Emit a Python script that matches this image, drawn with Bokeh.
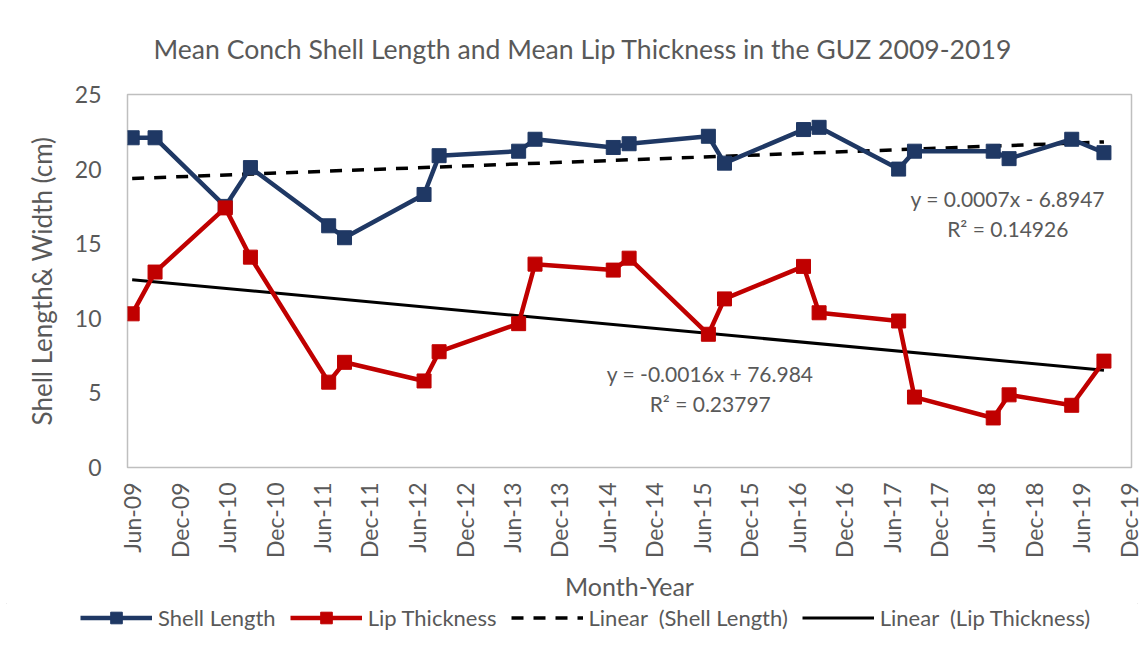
import numpy as np
import pandas as pd
from bokeh.plotting import figure
from bokeh.layouts import column
from bokeh.models import (Range1d, FixedTicker, DatetimeTickFormatter, Legend,
                          LegendItem, Label, ColumnDataSource)
from bokeh.embed import file_html
from bokeh.resources import INLINE

# ---- data ----
dates = ["2009-06-01", "2009-08-28", "2010-05-25", "2010-08-30", "2011-06-27",
         "2011-08-27", "2012-06-28", "2012-08-25", "2013-06-27", "2013-08-29",
         "2014-06-26", "2014-08-26", "2015-06-27", "2015-08-28", "2016-06-27",
         "2016-08-26", "2017-06-28", "2017-08-28", "2018-06-27", "2018-08-27",
         "2019-04-25", "2019-08-27"]
shell_length = [22.1, 22.1, 17.5, 20.1, 16.2, 15.4, 18.3, 20.9, 21.2, 22.0,
                21.45, 21.7, 22.2, 20.4, 22.65, 22.8, 20.0, 21.2, 21.2, 20.7,
                22.0, 21.1]
lip_thickness = [10.3, 13.1, 17.4, 14.1, 5.72, 7.05, 5.8, 7.76, 9.64, 13.63,
                 13.23, 14.03, 8.93, 11.3, 13.48, 10.37, 9.82, 4.72, 3.32, 4.87,
                 4.17, 7.13]
tick_dates = ["2009-06-01", "2009-12-01", "2010-06-01", "2010-12-01", "2011-06-01",
              "2011-12-01", "2012-06-01", "2012-12-01", "2013-06-01", "2013-12-01",
              "2014-06-01", "2014-12-01", "2015-06-01", "2015-12-01", "2016-06-01",
              "2016-12-01", "2017-06-01", "2017-12-01", "2018-06-01", "2018-12-01",
              "2019-06-01", "2019-12-01"]
legend_labels = ["Shell Length", "Lip Thickness", "Linear  (Shell Length)",
                 "Linear  (Lip Thickness)"]
shell_eq = ["y = 0.0007x - 6.8947", "R² = 0.14926"]
lip_eq = ["y = -0.0016x + 76.984", "R² = 0.23797"]

FONT = "Lato"
GREY = "#595959"
NAVY = "#1F3864"
RED = "#C00000"

d = pd.to_datetime(dates)
src = ColumnDataSource(dict(x=d, shell=shell_length, lip=lip_thickness))

# linear trend lines (least squares on days)
t = np.array((d - d[0]).days, dtype=float)
ends = pd.to_datetime([d[0], d[-1]])
t_end = np.array([t[0], t[-1]])
cs = np.polyfit(t, np.array(shell_length), 1)
cl = np.polyfit(t, np.array(lip_thickness), 1)
trend = ColumnDataSource(dict(x=ends, s=np.polyval(cs, t_end), l=np.polyval(cl, t_end)))

MAIN_H = 603
p = figure(width=1144, height=MAIN_H, x_axis_type="datetime",
           output_backend="svg", toolbar_location=None,
           x_range=Range1d(pd.Timestamp("2009-05-14"), pd.Timestamp("2019-12-11")),
           y_range=Range1d(0, 25),
           min_border_left=127, min_border_right=13,
           min_border_top=94, min_border_bottom=MAIN_H - 470)

p.title.text = "Mean Conch Shell Length and Mean Lip Thickness in the GUZ 2009-2019"
p.title.align = "left"
p.title.offset = 26
p.title.text_font = FONT
p.title.text_font_size = "26.6px"
p.title.text_font_style = "normal"
p.title.text_color = GREY
p.title.standoff = 60

p.xgrid.visible = False
p.ygrid.visible = False
p.outline_line_color = "#bfbfbf"
p.outline_line_width = 1.5

# axes
p.xaxis.ticker = FixedTicker(ticks=[pd.Timestamp(s).value / 1e6 for s in tick_dates])
fmt = "%b-%y"
p.xaxis.formatter = DatetimeTickFormatter(milliseconds=fmt, seconds=fmt, minsec=fmt,
                                          minutes=fmt, hourmin=fmt, hours=fmt, days=fmt,
                                          months=fmt, years=fmt)
p.xaxis.major_label_orientation = np.pi / 2
p.yaxis.ticker = FixedTicker(ticks=[0, 5, 10, 15, 20, 25])
for ax in (p.xaxis, p.yaxis):
    ax.axis_line_color = None
    ax.major_tick_line_color = None
    ax.minor_tick_line_color = None
    ax.major_tick_out = 0
    ax.major_tick_in = 0
    ax.major_label_text_font = FONT
    ax.major_label_text_color = GREY
    ax.axis_label_text_font = FONT
    ax.axis_label_text_color = GREY
    ax.axis_label_text_font_style = "normal"
p.xaxis.major_label_text_font_size = "23px"
p.yaxis.major_label_text_font_size = "23px"
p.xaxis.major_label_standoff = 15
p.yaxis.major_label_standoff = 26
p.xaxis.axis_label = "Month-Year"
p.xaxis.axis_label_text_font_size = "25px"
p.xaxis.axis_label_standoff = 10
p.yaxis.axis_label = "Shell Length& Width (cm)"
p.yaxis.axis_label_text_font_size = "26px"
p.yaxis.axis_label_standoff = 14

# trend lines
r_ts = p.line("x", "s", source=trend, line_color="black", line_width=3.5, line_dash="12 10")
r_tl = p.line("x", "l", source=trend, line_color="black", line_width=3)

# series
r_sl = p.line("x", "shell", source=src, line_color=NAVY, line_width=4.5)
r_sm = p.scatter("x", "shell", source=src, marker="square", size=14,
                 fill_color=NAVY, line_color=NAVY)
r_ll = p.line("x", "lip", source=src, line_color=RED, line_width=4.5)
r_lm = p.scatter("x", "lip", source=src, marker="square", size=14,
                 fill_color=RED, line_color=RED)

# equations
def eq(txt, x, y):
    p.add_layout(Label(x=pd.Timestamp(x).value / 1e6, y=y, text=txt, text_align="center",
                       text_baseline="middle", text_font=FONT, text_font_size="21px",
                       text_color=GREY))

eq(shell_eq[0], "2018-08-22", 18.0)
eq(shell_eq[1], "2018-08-22", 16.0)
eq(lip_eq[0], "2015-07-04", 6.3)
eq(lip_eq[1], "2015-07-04", 4.27)

# ---- legend strip (own small figure below the chart; same sources, off-range) ----
LEG_H = 654 - MAIN_H
GH = 29
q = figure(width=1144, height=LEG_H, output_backend="svg", toolbar_location=None,
           x_range=Range1d(0, 1), y_range=Range1d(0, 1), min_border=0,
           min_border_left=0, min_border_right=0, min_border_top=0, min_border_bottom=0)
q.axis.visible = False
q.grid.visible = False
q.outline_line_color = None
l1 = q.line("x", "shell", source=src, line_color=NAVY, line_width=4.5)
m1 = q.scatter("x", "shell", source=src, marker="square", size=14,
               fill_color=NAVY, line_color=NAVY)
l2 = q.line("x", "lip", source=src, line_color=RED, line_width=4.5)
m2 = q.scatter("x", "lip", source=src, marker="square", size=14,
               fill_color=RED, line_color=RED)
l3 = q.line("x", "s", source=trend, line_color="black", line_width=3.5, line_dash="12 10")
l4 = q.line("x", "l", source=trend, line_color="black", line_width=3)

legend = Legend(items=[
    LegendItem(label=legend_labels[0], renderers=[l1, m1]),
    LegendItem(label=legend_labels[1], renderers=[l2, m2]),
    LegendItem(label=legend_labels[2], renderers=[l3]),
    LegendItem(label=legend_labels[3], renderers=[l4]),
], orientation="horizontal", location=(80, LEG_H - GH))
legend.border_line_color = None
legend.background_fill_alpha = 0
legend.label_text_font = FONT
legend.label_text_font_size = "22px"
legend.label_text_color = GREY
legend.glyph_width = 72
legend.glyph_height = GH
legend.label_standoff = 6
legend.spacing = 14
legend.padding = 0
legend.margin = 0
q.add_layout(legend, "center")

layout = column(p, column(q))
layout.styles = {"outline": "1px solid #d9d9d9", "outline-offset": "-7px"}
open("out.html", "w").write(file_html(layout, INLINE))
